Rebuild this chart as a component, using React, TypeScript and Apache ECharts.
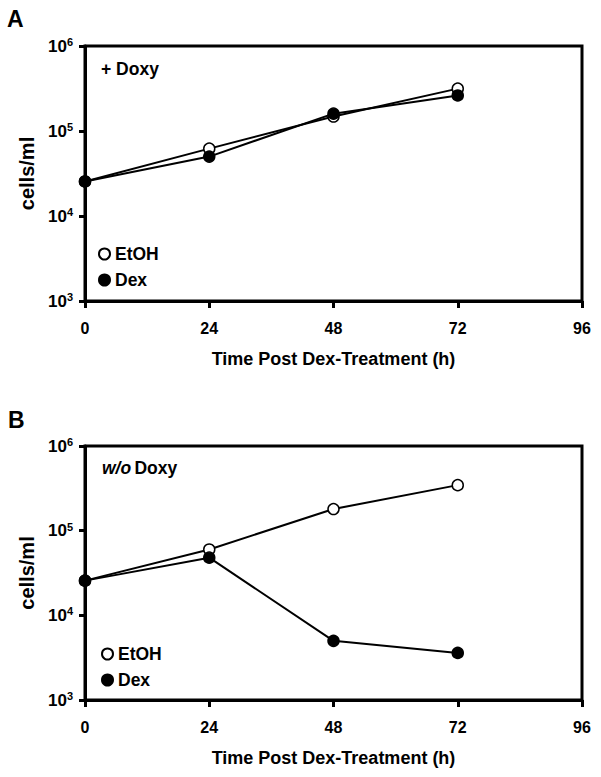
import React, { useEffect, useRef } from "react";
import * as echarts from "echarts";

const hours = [0, 24, 48, 72];
const xTicks = [0, 24, 48, 72, 96];
const yTicks = [1e3, 1e4, 1e5, 1e6];
const seriesNames = ["EtOH", "Dex"];
const etohDoxy = [25500, 62000, 148000, 315000];
const dexDoxy = [25500, 50000, 160000, 262000];
const etohNoDoxy = [25700, 60000, 180000, 345000];
const dexNoDoxy = [25700, 48000, 5000, 3600];

const FONT = "Liberation Sans, Arial, sans-serif";

function pairs(vals: number[]) {
  return hours.map((h, i) => [h, vals[i]]);
}

export default function App() {
  const ref = useRef<HTMLDivElement>(null);
  useEffect(() => {
    document.body.style.margin = "0";
    const chart = echarts.init(ref.current!, null, { renderer: "svg" });
    const grids = [
      { left: 85, top: 46, width: 497, height: 255 },
      { left: 85, top: 446, width: 497, height: 254 },
    ];
    const mkX = (i: number) => ({
      type: "value",
      gridIndex: i,
      min: xTicks[0],
      max: xTicks[xTicks.length - 1],
      interval: xTicks[1] - xTicks[0],
      name: "Time Post Dex-Treatment (h)",
      nameLocation: "middle",
      nameGap: 49,
      nameTextStyle: { fontFamily: FONT, fontWeight: "bold", fontSize: 18, color: "#000" },
      axisLine: { show: true, onZero: false, lineStyle: { color: "#000", width: 3 } },
      axisTick: { show: true, length: 7, lineStyle: { color: "#000", width: 3 } },
      axisLabel: { margin: 19, fontFamily: FONT, fontWeight: "bold", fontSize: 16, color: "#000" },
      splitLine: { show: false },
    });
    const mkY = (i: number) => ({
      type: "log",
      logBase: 10,
      gridIndex: i,
      min: yTicks[0],
      max: yTicks[yTicks.length - 1],
      name: "cells/ml",
      nameLocation: "middle",
      nameGap: 46,
      nameRotate: 90,
      nameTextStyle: { fontFamily: FONT, fontWeight: "bold", fontSize: 20, color: "#000" },
      axisLine: { show: true, lineStyle: { color: "#000", width: 3 } },
      axisTick: { show: true, length: 6, lineStyle: { color: "#000", width: 3 } },
      axisLabel: {
        margin: 12,
        formatter: (v: number) => `{b|10}{s|${Math.round(Math.log10(v))}}`,
        rich: {
          b: { fontFamily: FONT, fontWeight: "bold", fontSize: 17, color: "#000", lineHeight: 19 },
          s: { fontFamily: FONT, fontWeight: "bold", fontSize: 11, color: "#000", verticalAlign: "top", lineHeight: 11 },
        },
      },
      splitLine: { show: false },
    });
    const mkSeries = (name: string, vals: number[], i: number, filled: boolean) => ({
      type: "line",
      name,
      xAxisIndex: i,
      yAxisIndex: i,
      data: pairs(vals),
      symbol: "circle",
      symbolSize: 11,
      lineStyle: { color: "#000", width: 2 },
      itemStyle: { color: filled ? "#000" : "#fff", borderColor: "#000", borderWidth: 1.5 },
      z: filled ? 3 : 2,
    });
    const mkLegend = (left: number, top: number) => ({
      left,
      top,
      orient: "vertical",
      padding: 0,
      itemGap: 8,
      itemWidth: 11,
      itemHeight: 11,
      icon: "circle",
      selectedMode: false,
      data: seriesNames,
      textStyle: { fontFamily: FONT, fontWeight: "bold", fontSize: 17.5, color: "#000" },
    });
    const option: any = {
      animation: false,
      backgroundColor: "#fff",
      grid: grids.map((g) => ({ ...g, show: true, borderColor: "#000", borderWidth: 3, backgroundColor: "transparent" })),
      xAxis: [mkX(0), mkX(1)],
      yAxis: [mkY(0), mkY(1)],
      legend: [mkLegend(98, 245), mkLegend(101, 645)],
      series: [
        mkSeries(seriesNames[0], etohDoxy, 0, false),
        mkSeries(seriesNames[1], dexDoxy, 0, true),
        mkSeries(seriesNames[0], etohNoDoxy, 1, false),
        mkSeries(seriesNames[1], dexNoDoxy, 1, true),
      ],
      graphic: [
        { type: "text", left: 7, top: 7, style: { text: "A", fontFamily: FONT, fontWeight: "bold", fontSize: 23, fill: "#000" } },
        { type: "text", left: 8, top: 408, style: { text: "B", fontFamily: FONT, fontWeight: "bold", fontSize: 23, fill: "#000" } },
        { type: "text", x: 101, y: 69, style: { text: "+ Doxy", fontFamily: FONT, fontWeight: "bold", fontSize: 17.5, fill: "#000", verticalAlign: "middle" } },
        {
          type: "text",
          x: 102,
          y: 468,
          style: {
            text: "{i|w/o} {b|Doxy}",
            verticalAlign: "middle",
            rich: {
              i: { fontFamily: FONT, fontWeight: "bold", fontStyle: "italic", fontSize: 17.5, fill: "#000" },
              b: { fontFamily: FONT, fontWeight: "bold", fontSize: 17.5, fill: "#000" },
            },
          },
        },
      ],
    };
    chart.setOption(option);
    return () => chart.dispose();
  }, []);
  return <div ref={ref} style={{ width: 601, height: 777 }} />;
}
